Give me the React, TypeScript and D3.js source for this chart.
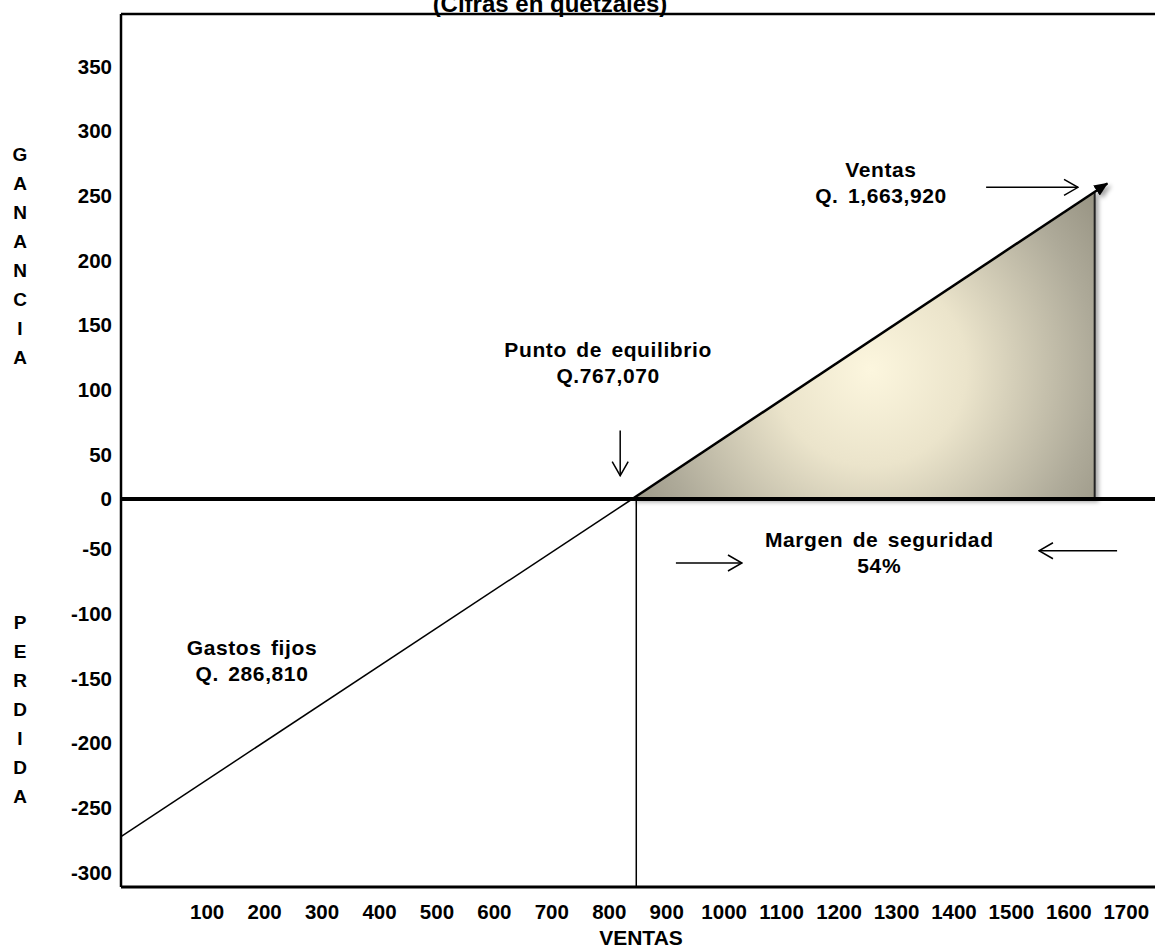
import React from "react";
import * as d3 from "d3";

// ---- data ----
const yTicks = [350, 300, 250, 200, 150, 100, 50, 0, -50, -100, -150, -200, -250, -300];
const xTicks = [100, 200, 300, 400, 500, 600, 700, 800, 900, 1000, 1100, 1200, 1300, 1400, 1500, 1600, 1700];
const gananciaLetters = ["G", "A", "N", "A", "N", "C", "I", "A"];
const perdidaLetters = ["P", "E", "R", "D", "I", "D", "A"];

// line of result: from fixed-cost loss to sales point
const lossLine = [
  { x: -50, y: -261 },
  { x: 840, y: 0 },
];
const profitLine = [
  { x: 840, y: 0 },
  { x: 1645, y: 237 },
];
const arrowTip = { x: 1667, y: 244 };
const breakEvenMarkX = 847;

const labelsPunto = ["Punto de equilibrio", "Q.767,070"];
const labelsVentas = ["Ventas", "Q. 1,663,920"];
const labelsMargen = ["Margen de seguridad", "54%"];
const labelsGastos = ["Gastos fijos", "Q. 286,810"];

const annotations = [
  { lines: labelsPunto, x: 798, y: 110 },
  { lines: labelsVentas, x: 1273, y: 249 },
  { lines: labelsMargen, x: 1270, y: -37 },
  { lines: labelsGastos, x: 178, y: -121 },
];

const arrows = [
  { x1: 819, y1: 53, x2: 819, y2: 18 },
  { x1: 1456, y1: 241, x2: 1616, y2: 241 },
  { x1: 916, y1: -49.5, x2: 1031, y2: -49.5 },
  { x1: 1684, y1: -40, x2: 1548, y2: -40 },
];

const W = 1155;
const H = 948;
const FONT = "'Liberation Sans', Arial, Helvetica, sans-serif";

export default function App() {
  const x = d3.scaleLinear().domain([-50, 1750]).range([121, 1155]);
  const y = d3.scaleLinear().domain([-300, 375]).range([887, 14]);
  const line = d3
    .line<{ x: number; y: number }>()
    .x((d) => x(d.x))
    .y((d) => y(d.y));

  const triangle = [
    { x: profitLine[0].x, y: 0 },
    { x: profitLine[1].x, y: profitLine[1].y },
    { x: profitLine[1].x, y: 0 },
  ];
  const triPath = line(triangle) + "Z";

  const tickOffset = (v: number) => (v > 0 ? 20 : v < 0 ? -14.5 : 0);

  return (
    <svg width={W} height={H} style={{ position: "absolute", left: 0, top: 0, background: "#fff" }}>
      <defs>
        <radialGradient
          id="triGrad"
          gradientUnits="userSpaceOnUse"
          cx={x(1255)}
          cy={y(100)}
          r={320}
        >
          <stop offset="0" stopColor="#fcf6de" />
          <stop offset="0.3" stopColor="#ebe4cb" />
          <stop offset="0.7" stopColor="#aeaa99" />
          <stop offset="1" stopColor="#8a8676" />
        </radialGradient>
        <filter id="shadow" x="-10%" y="-10%" width="130%" height="130%">
          <feDropShadow dx="3" dy="3" stdDeviation="2" floodColor="#000" floodOpacity="0.35" />
        </filter>
        <marker
          id="openHead"
          viewBox="0 0 16 18"
          refX="15"
          refY="9"
          markerWidth="16"
          markerHeight="18"
          markerUnits="userSpaceOnUse"
          orient="auto"
        >
          <path d="M1,1 L15,9 L1,17" fill="none" stroke="#000" strokeWidth="1.5" />
        </marker>
        <marker
          id="solidHead"
          viewBox="0 0 14 12"
          refX="13"
          refY="6"
          markerWidth="14"
          markerHeight="12"
          markerUnits="userSpaceOnUse"
          orient="auto"
        >
          <path d="M0,0 L14,6 L0,12 Z" fill="#000" />
        </marker>
      </defs>

      {/* title (cut at the top edge, as in the original) */}
      <text x={550} y={12} textAnchor="middle" fontFamily={FONT} fontWeight="bold" fontSize={24}>
        (Cifras en quetzales)
      </text>

      {/* profit triangle */}
      <g filter="url(#shadow)">
        <path d={triPath} fill="url(#triGrad)" />
        <line
          x1={x(profitLine[1].x)}
          x2={x(profitLine[1].x)}
          y1={y(profitLine[1].y)}
          y2={y(0)}
          stroke="#222"
          strokeWidth={2}
        />
        <path
          d={line([profitLine[0], arrowTip]) || ""}
          fill="none"
          stroke="#000"
          strokeWidth={2.5}
          markerEnd="url(#solidHead)"
        />
      </g>

      {/* loss line */}
      <path d={line(lossLine) || ""} fill="none" stroke="#000" strokeWidth={1.5} />

      {/* break-even vertical */}
      <line
        x1={x(breakEvenMarkX)}
        x2={x(breakEvenMarkX)}
        y1={y(0)}
        y2={y(-300)}
        stroke="#000"
        strokeWidth={1.5}
      />

      {/* axes frame */}
      <line x1={x(-50)} x2={x(-50)} y1={y(375)} y2={y(-300)} stroke="#000" strokeWidth={2.5} />
      <line x1={x(-50)} x2={W} y1={y(375)} y2={y(375)} stroke="#000" strokeWidth={2.5} />
      <line x1={x(-50)} x2={W} y1={y(-300)} y2={y(-300)} stroke="#000" strokeWidth={3} />
      <line x1={x(-50)} x2={W} y1={y(0)} y2={y(0)} stroke="#000" strokeWidth={4} />

      {/* y tick labels */}
      {yTicks.map((v) => (
        <text
          key={"y" + v}
          x={112}
          y={y(v) + tickOffset(v)}
          dy="0.35em"
          textAnchor="end"
          fontFamily={FONT}
          fontWeight="bold"
          fontSize={20.5}
        >
          {v}
        </text>
      ))}

      {/* x tick labels */}
      {xTicks.map((v) => (
        <text
          key={"x" + v}
          x={x(v)}
          y={919}
          textAnchor="middle"
          fontFamily={FONT}
          fontWeight="bold"
          fontSize={20.5}
        >
          {v}
        </text>
      ))}
      <text x={641} y={945} textAnchor="middle" fontFamily={FONT} fontWeight="bold" fontSize={21}>
        VENTAS
      </text>

      {/* vertical axis titles */}
      {gananciaLetters.map((c, i) => (
        <text
          key={"g" + i}
          x={20}
          y={154 + i * 29}
          dy="0.35em"
          textAnchor="middle"
          fontFamily={FONT}
          fontWeight="bold"
          fontSize={19}
        >
          {c}
        </text>
      ))}
      {perdidaLetters.map((c, i) => (
        <text
          key={"p" + i}
          x={20}
          y={622 + i * 29}
          dy="0.35em"
          textAnchor="middle"
          fontFamily={FONT}
          fontWeight="bold"
          fontSize={19}
        >
          {c}
        </text>
      ))}

      {/* annotations */}
      {annotations.map((a, i) => (
        <text
          key={"a" + i}
          x={x(a.x)}
          y={y(a.y)}
          textAnchor="middle"
          fontFamily={FONT}
          fontWeight="bold"
          fontSize={21}
          letterSpacing={0.6}
          wordSpacing={3}
        >
          {a.lines.map((l, j) => (
            <tspan key={j} x={x(a.x)} dy={j === 0 ? 0 : 26}>
              {l}
            </tspan>
          ))}
        </text>
      ))}

      {/* arrows */}
      {arrows.map((a, i) => (
        <line
          key={"ar" + i}
          x1={x(a.x1)}
          y1={y(a.y1)}
          x2={x(a.x2)}
          y2={y(a.y2)}
          stroke="#000"
          strokeWidth={1.5}
          markerEnd="url(#openHead)"
        />
      ))}
    </svg>
  );
}
